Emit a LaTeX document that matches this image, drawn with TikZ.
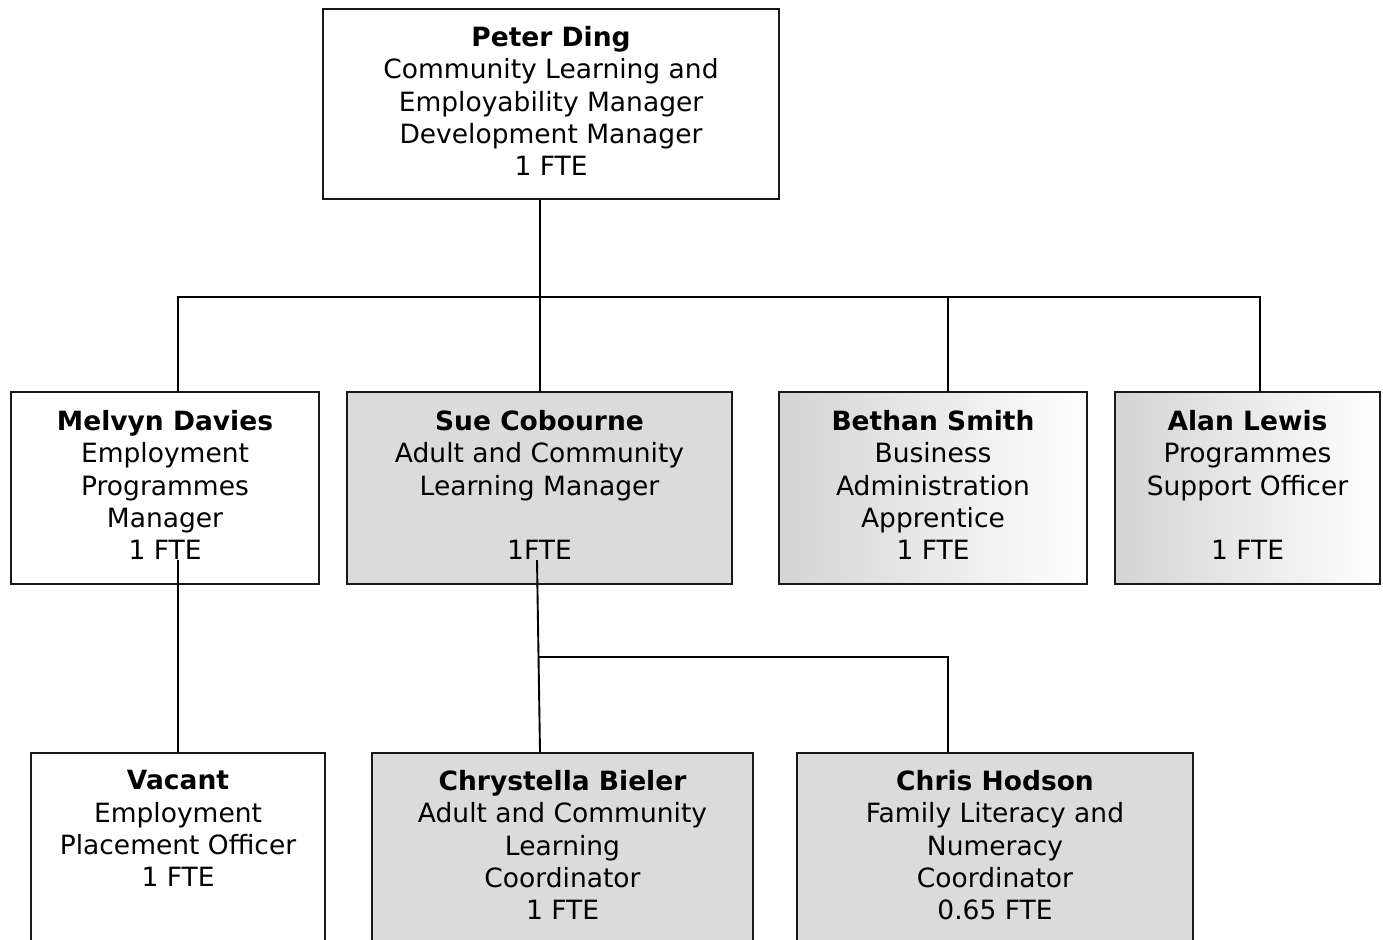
\documentclass[tikz,border=0pt]{standalone}
\usepackage{fontspec}
\setmainfont{DejaVu Sans}
\newcommand\lift{\rule[-6pt]{0pt}{0pt}}
\begin{document}
\begin{tikzpicture}[x=1pt,y=-1pt,
 every node/.style={font=\fontsize{26.5}{32.3}\selectfont},
 box/.style={draw=black!90, line width=1.9pt, align=center, inner sep=0pt},
 whitebox/.style={box, fill=white},
 greybox/.style={box, fill=black!14},
 shadebox/.style={box, left color=black!17, right color=white},
 rowtwo/.style={minimum height=192pt},
 link/.style={line width=1.9pt, black}
]
\clip (0,0) rectangle (1383,939);
% top
\node[whitebox, minimum width=456pt, minimum height=190pt] (peter) at (551,104)
 {\textbf{Peter Ding}\\Community Learning and\\Employability Manager\\Development Manager\\1 FTE\lift};
% second row
\node[whitebox, rowtwo, minimum width=308pt] (mel) at (165,488)
 {\textbf{Melvyn Davies}\\Employment\\Programmes\\Manager\\1 FTE\lift};
\node[greybox, rowtwo, minimum width=385pt] (sue) at (539.5,488)
 {\textbf{Sue Cobourne}\\Adult and Community\\Learning Manager\\\mbox{}\\1FTE\lift};
\node[shadebox, rowtwo, minimum width=308pt] (beth) at (933,488)
 {\textbf{Bethan Smith}\\Business\\Administration\\Apprentice\\1 FTE\lift};
\node[shadebox, rowtwo, minimum width=265pt] (alan) at (1247.5,488)
 {\textbf{Alan Lewis}\\Programmes\\Support Officer\\\mbox{}\\1 FTE\lift};
% third row
\node[whitebox, anchor=north, inner ysep=17.5pt] (vac) at (178,752)
 {\parbox[t][260pt][t]{294pt}{\centering\textbf{Vacant}\\Employment\\Placement Officer\\1 FTE}};
\node[greybox, anchor=north, inner ysep=17.5pt] (chry) at (562.5,752)
 {\parbox[t][260pt][t]{381pt}{\centering\textbf{Chrystella Bieler}\\Adult and Community\\Learning\\Coordinator\\1 FTE}};
\node[greybox, anchor=north, inner ysep=17.5pt] (hod) at (995,752)
 {\parbox[t][260pt][t]{396pt}{\centering\textbf{Chris Hodson}\\Family Literacy and\\Numeracy\\Coordinator\\0.65 FTE}};
% connectors
\coordinate (bus) at (540,297);
\draw[link] ([xshift=0.5pt]sue.north) -- ([xshift=0.5pt]sue.north |- peter.south);
\draw[link] (vac.north |- mel.north) -- (vac.north |- bus)
  -- ([xshift=12.5pt]alan.north |- bus) -- ([xshift=12.5pt]alan.north);
\draw[link] ([xshift=15pt]beth.north) -- ([xshift=15pt]beth.north |- bus);
\coordinate (melIn) at (179,560);
\draw[link] (vac.north) -- (vac.north |- melIn);
\coordinate (sueIn) at (537,560);
\draw[link] (sueIn) -- ([xshift=-22.5pt]chry.north);
\coordinate (bus2) at (539,657);
\draw[link] (bus2) -| ([xshift=-47pt]hod.north);
\end{tikzpicture}
\end{document}
